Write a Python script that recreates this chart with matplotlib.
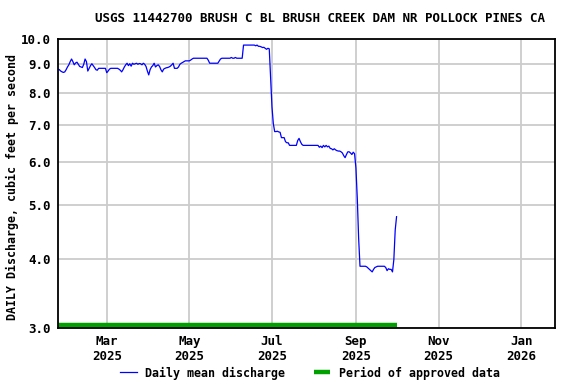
import matplotlib
matplotlib.use("Agg")
import matplotlib.pyplot as plt
from matplotlib.ticker import FixedLocator, FixedFormatter, NullLocator
import pandas as pd

title = "USGS 11442700 BRUSH C BL BRUSH CREEK DAM NR POLLOCK PINES CA"
ylabel = "DAILY Discharge, cubic feet per second"

start_date = "2025-01-24"
# daily mean discharge, cfs
discharge = [
    8.82, 8.80, 8.75, 8.72, 8.70, 8.72, 8.80, 8.90, 8.98, 9.10,
    9.20, 9.10, 8.98, 9.05, 9.08, 9.00, 8.92, 8.90, 8.88, 9.00,
    9.20, 9.10, 8.75, 8.85, 8.95, 9.02, 8.95, 8.88, 8.80, 8.78,
    8.85, 8.85, 8.85, 8.85, 8.85, 8.85,
    8.69, 8.75, 8.82, 8.85, 8.85, 8.85, 8.85, 8.85, 8.85, 8.82,
    8.78, 8.72, 8.80, 8.90, 8.98, 9.04, 8.95, 9.02, 8.93, 9.04,
    9.00, 9.02, 9.04, 9.00, 9.03, 9.02, 8.98, 9.04, 9.00, 8.92,
    8.75, 8.61, 8.80, 8.90, 8.95, 9.04, 8.90, 8.95, 8.98, 8.92,
    8.80, 8.72, 8.82, 8.85, 8.87, 8.88, 8.90, 8.93, 8.98, 9.04,
    8.85, 8.85, 8.85, 8.90, 9.00, 9.04, 9.07, 9.10, 9.13, 9.13,
    9.13,
    9.13, 9.16, 9.20, 9.23, 9.23, 9.23, 9.23, 9.23, 9.23, 9.23,
    9.23, 9.23, 9.23, 9.23, 9.15, 9.04, 9.04, 9.04, 9.04, 9.04,
    9.04, 9.04, 9.12, 9.20, 9.23, 9.23, 9.23, 9.23, 9.23, 9.23,
    9.23, 9.26, 9.23, 9.23, 9.26, 9.23, 9.23, 9.23, 9.23, 9.23,
    9.75, 9.75, 9.75, 9.75, 9.75, 9.75, 9.75, 9.75, 9.75, 9.72,
    9.75, 9.70, 9.70, 9.68, 9.65, 9.66, 9.62, 9.58, 9.62, 9.60,
    8.50,
    7.54, 7.03, 6.80, 6.80, 6.81, 6.79, 6.78, 6.63, 6.63, 6.63,
    6.52, 6.49, 6.49, 6.42, 6.42, 6.42, 6.42, 6.42, 6.42, 6.55,
    6.61, 6.52, 6.45, 6.42, 6.42, 6.42, 6.42, 6.42, 6.42, 6.42,
    6.42, 6.42, 6.42, 6.42, 6.42, 6.37, 6.40, 6.36, 6.42, 6.38,
    6.42, 6.38, 6.40, 6.34, 6.33, 6.30, 6.33, 6.30, 6.28, 6.27,
    6.27, 6.25, 6.22, 6.15, 6.10, 6.18, 6.25, 6.25, 6.22, 6.18,
    6.24, 6.20,
    5.84, 5.15, 4.36, 3.88, 3.88, 3.88, 3.88, 3.88, 3.87, 3.85,
    3.83, 3.81, 3.79, 3.83, 3.86, 3.87, 3.88, 3.88, 3.88, 3.88,
    3.88, 3.88, 3.86, 3.81, 3.84, 3.83, 3.83, 3.79, 3.99, 4.51,
    4.77,
]

approved_start = "2025-01-24"
approved_end = "2025-10-01"

y_ticks = [3.0, 4.0, 5.0, 6.0, 7.0, 8.0, 9.0, 10.0]
x_ticks = ["2025-03-01", "2025-05-01", "2025-07-01", "2025-09-01", "2025-11-01", "2026-01-01"]
x_labels = ["Mar\n2025", "May\n2025", "Jul\n2025", "Sep\n2025", "Nov\n2025", "Jan\n2026"]
x_range = ["2025-01-24", "2026-01-26"]

dates = pd.date_range(start_date, periods=len(discharge), freq="D")

plt.rcParams["font.family"] = "DejaVu Sans Mono"
plt.rcParams["font.weight"] = "bold"
plt.rcParams["font.size"] = 9

fig = plt.figure(figsize=(5.76, 3.84), dpi=100)
ax = fig.add_axes([58/576, 1-328/384, (555-58)/576, (328-39)/384])

line_q, = ax.plot(dates, discharge, color="#0000ff", lw=0.9, label="Daily mean discharge")

# approved period bar along the bottom of the plot
line_ap, = ax.plot(pd.to_datetime([approved_start, approved_end]), [0.011, 0.011],
                   color="#00a000", lw=3.2, solid_capstyle="butt",
                   transform=ax.get_xaxis_transform(), label="Period of approved data")

ax.set_yscale("log")
ax.set_ylim(3.0, 10.0)
ax.yaxis.set_major_locator(FixedLocator(y_ticks))
ax.yaxis.set_major_formatter(FixedFormatter(["%.1f" % v for v in y_ticks]))
ax.yaxis.set_minor_locator(NullLocator())

ax.set_xlim(pd.to_datetime(x_range[0]), pd.to_datetime(x_range[1]))
ax.set_xticks(pd.to_datetime(x_ticks))
ax.set_xticklabels(x_labels, linespacing=1.25)
ax.xaxis.set_minor_locator(NullLocator())

ax.grid(True, color="#cccccc", lw=1.3)
ax.set_axisbelow(True)
ax.tick_params(length=0, pad=5)
for s in ax.spines.values():
    s.set_linewidth(1.3)
    s.set_color("black")

fig.text(320/576, 1-19/384, title, ha="center", va="center")
fig.text(12/576, 1-187/384, ylabel, rotation=90, ha="center", va="center", fontsize=8.4)

fig.legend(handles=[line_q, line_ap], loc="center", bbox_to_anchor=(310/576, 1-373/384),
           ncol=2, frameon=False, handlelength=1.4, handletextpad=0.7, columnspacing=2.5,
           borderaxespad=0, borderpad=0, prop={"size": 8.4, "weight": "bold"})

fig.savefig("out.png", dpi=100)
